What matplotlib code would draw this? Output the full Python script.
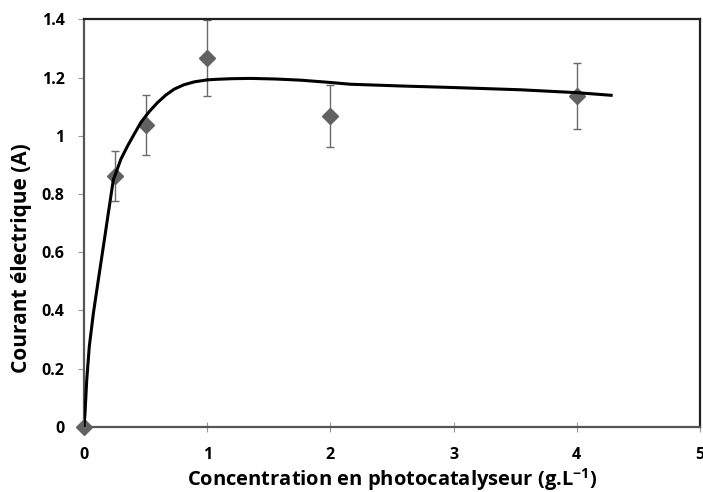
import matplotlib
matplotlib.use("Agg")
import matplotlib.pyplot as plt

# measured points
conc = [0, 0.25, 0.5, 1, 2, 4]
courant = [0, 0.862, 1.036, 1.268, 1.067, 1.137]
err = [0, 0.087, 0.103, 0.13, 0.107, 0.113]

# trend curve
curve_x = [0, 0.008, 0.022, 0.043, 0.076, 0.116, 0.157, 0.197, 0.238, 0.30,
           0.354, 0.40, 0.462, 0.53, 0.597, 0.665, 0.732, 0.81, 0.894, 1.0,
           1.083, 1.2, 1.353, 1.55, 1.758, 2.0, 2.16, 2.57, 2.97, 3.54, 4.0, 4.28]
curve_y = [0, 0.046, 0.16, 0.276, 0.39, 0.504, 0.619, 0.733, 0.848, 0.92,
           0.965, 1.0, 1.046, 1.083, 1.114, 1.14, 1.160, 1.175, 1.185, 1.192,
           1.194, 1.196, 1.197, 1.195, 1.191, 1.183, 1.177, 1.171, 1.166, 1.158, 1.148, 1.139]

xticks = [0, 1, 2, 3, 4, 5]
yticks = [0, 0.2, 0.4, 0.6, 0.8, 1, 1.2, 1.4]
ytick_labels = ["0", "0.2", "0.4", "0.6", "0.8", "1", "1.2", "1.4"]

plt.rcParams['font.family'] = ['Open Sans', 'DejaVu Sans']
plt.rcParams['font.weight'] = 'bold'
plt.rcParams['mathtext.fontset'] = 'custom'
plt.rcParams['mathtext.rm'] = 'Open Sans:bold'
plt.rcParams['mathtext.bf'] = 'Open Sans:bold'
plt.rcParams['mathtext.default'] = 'rm'

fig = plt.figure(figsize=(7.03, 4.92), dpi=100)
ax = fig.add_axes([0.1195, 0.1327, 0.876, 0.828])

ax.errorbar(conc, courant, yerr=err, fmt='none', ecolor='#6a6a6a',
            elinewidth=1.0, capsize=3, capthick=1.0, zorder=2)
ax.plot(conc, courant, 'D', color='#626262', markersize=8, zorder=3, clip_on=False)
ax.plot(curve_x, curve_y, color='black', lw=2.2, zorder=4)

ax.set_xlim(0, 5)
ax.set_ylim(0, 1.4)
ax.set_xticks(xticks)
ax.set_yticks(yticks)
ax.set_yticklabels(ytick_labels)

for s in ax.spines.values():
    s.set_linewidth(1.6)
    s.set_color('#202020')
ax.spines['left'].set_color('#555555')
ax.spines['bottom'].set_color('#555555')

ax.tick_params(axis='x', direction='inout', length=7, width=0.8, color='#999999',
               pad=11, labelsize=11.5)
ax.tick_params(axis='y', direction='out', length=4, width=0.8, color='#999999',
               pad=10, labelsize=11.5)

ax.set_xlabel('Concentration en photocatalyseur (g.L$^{-1}$)', fontsize=14.5,
              fontweight='bold')
ax.xaxis.set_label_coords(0.5, -0.096)
ax.set_ylabel('Courant électrique (A)', fontsize=15, fontweight='bold')
ax.yaxis.set_label_coords(-0.084, 0.413)

fig.savefig('out.png', dpi=100)
